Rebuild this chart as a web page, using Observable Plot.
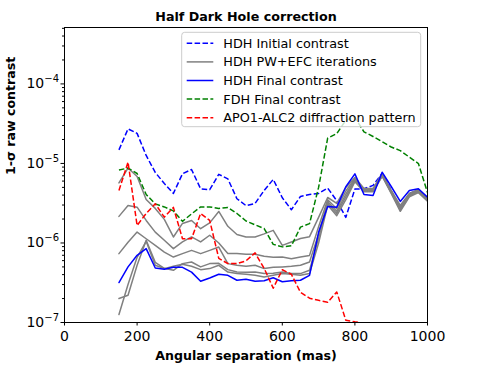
<!DOCTYPE html>
<html><head><meta charset="utf-8">
<script src="https://cdn.jsdelivr.net/npm/d3@7"></script>
<script src="https://cdn.jsdelivr.net/npm/@observablehq/plot@0.6"></script>
<style>body{margin:0;background:#fff;} svg{display:block;}</style>
</head><body><div id="chart"></div>
<script>
const separation = [150,175,200,225,250,275,300,325,350,375,400,425,450,475,500,525,550,575,600,625,650,675,700,725,750,775,800,825,850,875,900,925,950,975,1000];
const hdhInitial = [1.48e-5,2.72e-5,2.39e-5,1.26e-5,7.7e-6,5.6e-6,4.2e-6,7.4e-6,8.4e-6,4.8e-6,4.67e-6,7.3e-6,6.4e-6,3.6e-6,2.95e-6,3.14e-6,4.57e-6,6.3e-6,3.7e-6,2.62e-6,3.84e-6,4.07e-6,4.19e-6,4.9e-6,3.4e-6,2.1e-6,4.77e-6,4.8e-6,5.3e-6,7.5e-6,4.6e-6,2.6e-6,4.2e-6,4.6e-6,3.7e-6];
const pwefc1 = [5.68e-6,8.75e-6,6.85e-6,3.52e-6,2.72e-6,1.98e-6,1.19e-6,1.76e-6,1.92e-6,1.51e-6,1.79e-6,2.49e-6,1.62e-6,1.28e-6,1.19e-6,1.19e-6,1.3e-6,1.44e-6,9.33e-7,1.03e-6,1.14e-6,1.2e-6,2.1e-6,3.73e-6,3.14e-6,4.99e-6,6.65e-6,4.84e-6,4.84e-6,7.47e-6,4.57e-6,2.96e-6,4.19e-6,4.7e-6,3.73e-6];
const pwefc2 = [2.16e-6,2.96e-6,2.82e-6,1.92e-6,1.37e-6,1.08e-6,8.48e-7,1.03e-6,1.19e-6,1.03e-6,1.25e-6,1.0e-6,7.35e-7,7.35e-7,7.2e-7,7.2e-7,6.8e-7,6.6e-7,6.65e-7,6.35e-7,6.65e-7,6.98e-7,1.6e-6,3.5e-6,2.7e-6,4.5e-6,6.5e-6,4.7e-6,4.7e-6,7.3e-6,4.5e-6,2.8e-6,4.1e-6,4.6e-6,3.65e-6];
const pwefc3 = [7.34e-7,1.02e-6,1.37e-6,1.13e-6,9.33e-7,7.69e-7,6.65e-7,7.34e-7,8.07e-7,7.34e-7,8.07e-7,8.89e-7,5.5e-7,5.24e-7,5.09e-7,5.24e-7,4.76e-7,4.94e-7,5.0e-7,5.09e-7,5.24e-7,5.76e-7,1.3e-6,3.3e-6,2.5e-6,4.1e-6,6.3e-6,4.6e-6,4.6e-6,7.1e-6,4.4e-6,2.7e-6,4.0e-6,4.5e-6,3.55e-6];
const pwefc4 = [2.0e-7,2.2e-7,5.24e-7,1.08e-6,5.7e-7,4.8e-7,4.53e-7,5.5e-7,5.76e-7,5.0e-7,5.5e-7,5.55e-7,4.62e-7,4.31e-7,4.28e-7,4.31e-7,4.12e-7,4.15e-7,4.31e-7,4.12e-7,4.12e-7,4.53e-7,1.15e-6,3.15e-6,2.35e-6,3.8e-6,6.1e-6,4.5e-6,4.5e-6,7.0e-6,4.3e-6,2.6e-6,3.9e-6,4.4e-6,3.45e-6];
const pwefc5 = [1.26e-7,3.0e-7,6.6e-7,1.05e-6,5.24e-7,4.76e-7,5.09e-7,5.39e-7,5.09e-7,4.62e-7,4.76e-7,5.24e-7,4.31e-7,4.12e-7,4.04e-7,3.92e-7,3.73e-7,3.92e-7,4.12e-7,4.04e-7,3.92e-7,4.12e-7,1.0e-6,3.0e-6,2.2e-6,3.5e-6,5.9e-6,4.4e-6,4.4e-6,6.9e-6,4.2e-6,2.5e-6,3.8e-6,4.3e-6,3.35e-6];
const hdhFinal = [3.18e-7,5.0e-7,7.0e-7,8.5e-7,4.84e-7,4.67e-7,4.94e-7,4.94e-7,4.3e-7,3.3e-7,3.63e-7,4.04e-7,3.92e-7,3.4e-7,3.5e-7,3.3e-7,3.35e-7,3.65e-7,3.25e-7,3.35e-7,3.4e-7,3.92e-7,1.36e-6,2.88e-6,2.82e-6,5.1e-6,7.4e-6,4.07e-6,3.95e-6,7.76e-6,5.13e-6,3.33e-6,4.57e-6,4.8e-6,3.77e-6];
const fdhFinal = [8.26e-6,8.75e-6,7.47e-6,4.07e-6,3.1e-6,2.84e-6,2.53e-6,1.87e-6,2.32e-6,2.84e-6,2.84e-6,2.72e-6,2.8e-6,2.35e-6,1.89e-6,1.69e-6,1.52e-6,9.6e-7,8.93e-7,9.2e-7,1.58e-6,1.75e-6,5.0e-6,2.08e-5,2.37e-5,3.5e-5,3.8e-5,2.5e-5,2.18e-5,1.88e-5,1.61e-5,1.45e-5,1.2e-5,9.97e-6,4.3e-6];
const apoSeparation = [150,175,200,225,250,275,300,325,350,375,400,425,450,475,500,525,550,575,600,625,650,675,700,725,750,775,800,825];
const apoPattern = [4.57e-6,1.04e-5,1.66e-6,2.35e-6,3.11e-6,2.11e-6,2.8e-6,1.13e-6,1.13e-6,2.35e-6,1.92e-6,6.41e-7,5.5e-7,5.5e-7,5.96e-7,7.5e-7,4.8e-7,2.7e-7,4.6e-7,4.04e-7,2.4e-7,2.02e-7,1.9e-7,1.8e-7,2.42e-7,1.07e-7,1.02e-7,9.8e-8];

const xTicks = [0,200,400,600,800,1000];
const yMajor = [1e-7,1e-6,1e-5,1e-4];
const yMinor = [2e-7,3e-7,4e-7,5e-7,6e-7,7e-7,8e-7,9e-7,2e-6,3e-6,4e-6,5e-6,6e-6,7e-6,8e-6,9e-6,2e-5,3e-5,4e-5,5e-5,6e-5,7e-5,8e-5,9e-5,2e-4,3e-4,4e-4,5e-4];
const legendLabels = ["HDH Initial contrast","HDH PW+EFC iterations","HDH Final contrast","FDH Final contrast","APO1-ALC2 diffraction pattern"];
const colors = ["#0000ff","#808080","#0000ff","#008000","#ff0000"];
const dashed = [true,false,false,true,true];

const toRows = (xs, ys, key) => xs.map((x, i) => ({x, y: ys[i], key}));
const initialRows = toRows(separation, hdhInitial, "init");
const grayRows = [pwefc1,pwefc2,pwefc3,pwefc4,pwefc5].flatMap((v, k) => toRows(separation, v, "pw" + k));
const finalRows = toRows(separation, hdhFinal, "final");
const fdhRows = toRows(separation, fdhFinal, "fdh");
const apoRows = toRows(apoSeparation, apoPattern, "apo");

const dash = "5.5,2.4";
const lineOpts = (color, isDash) => ({x: "x", y: "y", z: "key", stroke: color, strokeWidth: 1.5, clip: true,
  strokeDasharray: isDash ? dash : null, strokeLinecap: isDash ? "butt" : "round", strokeLinejoin: "round"});

const plot = Plot.plot({
  width: 491, height: 367,
  marginLeft: 64, marginRight: 64, marginTop: 27, marginBottom: 45,
  style: {fontFamily: "DejaVu Sans", background: "white", color: "black"},
  x: {domain: [0, 1000]},
  y: {type: "log", domain: [1e-7, 5.12e-4]},
  marks: [
    Plot.line(initialRows, lineOpts(colors[0], true)),
    Plot.line(grayRows, lineOpts(colors[1], false)),
    Plot.line(finalRows, lineOpts(colors[2], false)),
    Plot.line(fdhRows, lineOpts(colors[3], true)),
    Plot.line(apoRows, lineOpts(colors[4], true)),
    Plot.frame({stroke: "black", strokeWidth: 1}),
    Plot.axisX({ticks: xTicks, tickSize: 3.5, tickPadding: 5, fontSize: 14, label: null, tickFormat: d => String(d)}),
    Plot.axisY({ticks: yMinor, tickSize: 2, tickFormat: () => "", label: null}),
    Plot.axisY({ticks: yMajor, tickSize: 3.5, tickPadding: 2, fontSize: 14, label: null, tickFormat: d => "10^" + Math.round(Math.log10(d))}),
    Plot.text(["Half Dark Hole correction"], {text: d => d, frameAnchor: "top", dy: -10.7, fontWeight: "bold", fontSize: 12.7, lineAnchor: "middle"}),
    Plot.text(["Angular separation (mas)"], {text: d => d, frameAnchor: "bottom", dy: 33.4, fontWeight: "bold", fontSize: 12.6, lineAnchor: "middle"}),
    Plot.text(["1-σ raw contrast"], {text: d => d, frameAnchor: "left", dx: -54, rotate: -90, fontWeight: "bold", fontSize: 12.6, lineAnchor: "middle"})
  ]
});

const svg = d3.select(plot);
svg.selectAll("text").each(function() {
  const m = /^10\^(-?\d+)$/.exec(this.textContent);
  if (m) {
    const el = d3.select(this);
    el.text("");
    el.append("tspan").text("10");
    el.append("tspan").attr("font-size", "10px").attr("dy", "-0.6em").text(m[1].replace("-", "\u2212"));
  }
});

// legend
const lg = svg.append("g").attr("font-family", "DejaVu Sans").attr("font-size", "12.8px").attr("text-anchor", "start");
lg.append("rect").attr("x", 181.7).attr("y", 32.3).attr("width", 239).attr("height", 94.4).attr("rx", 3)
  .attr("fill", "white").attr("fill-opacity", 0.8).attr("stroke", "#cccccc");
legendLabels.forEach((label, i) => {
  const y = 43.3 + i * 18.6;
  lg.append("line").attr("x1", 186.7).attr("x2", 213.3).attr("y1", y).attr("y2", y)
    .attr("stroke", colors[i]).attr("stroke-width", 1.5)
    .attr("stroke-dasharray", dashed[i] ? dash : null);
  lg.append("text").attr("x", 223.3).attr("y", y).attr("dy", "0.35em").attr("text-anchor", "start").attr("fill", "black").text(label);
});

document.getElementById("chart").appendChild(plot);
</script>
</body></html>
